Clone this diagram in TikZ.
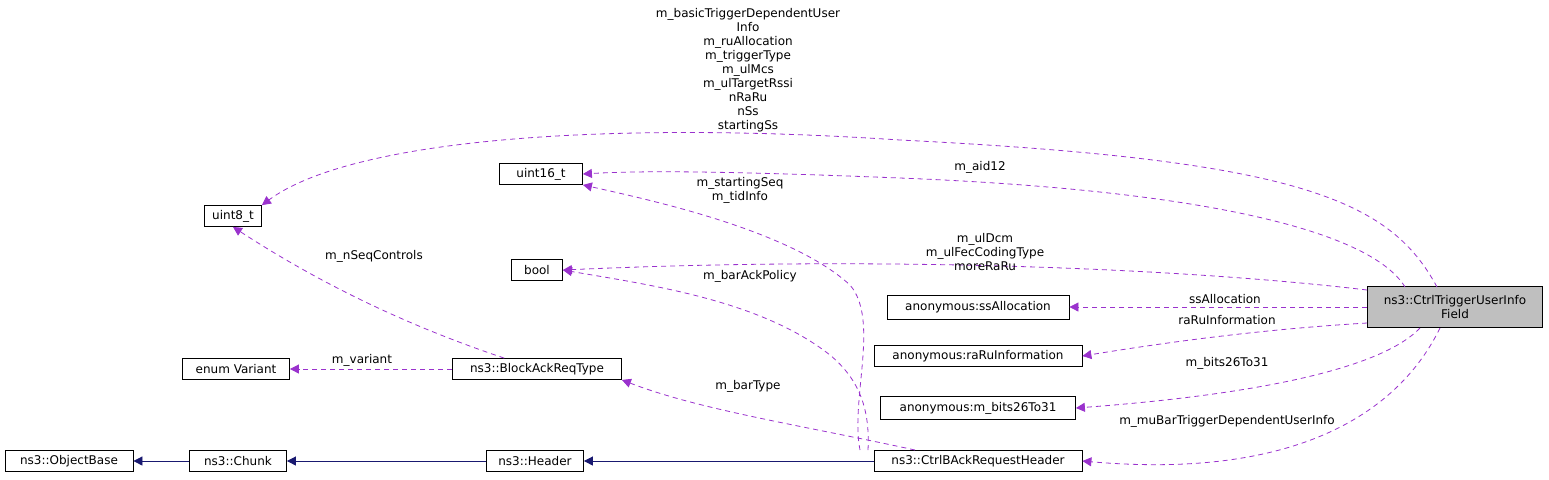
\documentclass[tikz,border=0pt]{standalone}
\usepackage{fontspec}
\setmainfont{DejaVu Sans}
\usetikzlibrary{arrows.meta}
\tikzset{
  cls/.style={draw=black, fill=white, inner sep=0pt, minimum height=10.5pt, font=\fontsize{6}{7}\selectfont},
  uses/.style={draw={rgb,255:red,154;green,50;blue,205}, dashed, dash pattern=on 2.5pt off 2pt,
    -{Triangle[length=4.5pt,width=4.5pt,fill={rgb,255:red,154;green,50;blue,205}]}},
  isa/.style={draw={rgb,255:red,25;green,25;blue,112},
    -{Triangle[length=4.5pt,width=4.5pt,fill={rgb,255:red,25;green,25;blue,112}]}},
  lbl/.style={font=\fontsize{6}{7}\selectfont, align=center, inner sep=0pt}
}
\begin{document}
\begin{tikzpicture}[x=0.5pt,y=-0.5pt]
  \useasboundingbox (0,0) rectangle (1549,479);
  % classes
  \node[cls, minimum width=28.5pt] (u8) at (233,216) {uint8\_t};
  \node[cls, minimum width=41.5pt] (u16) at (541,174) {uint16\_t};
  \node[cls, minimum width=25.5pt] (bool) at (537,270) {bool};
  \node[cls, minimum width=53.5pt] (var) at (236,369) {enum Variant};
  \node[cls, minimum width=64pt] (obj) at (69,461) {ns3::ObjectBase};
  \node[cls, minimum width=48.5pt] (chunk) at (238,461) {ns3::Chunk};
  \node[cls, minimum width=48.5pt] (hdr) at (535,461) {ns3::Header};
  \node[cls, minimum width=84.5pt] (bar) at (537,369) {ns3::BlockAckReqType};
  \node[cls, minimum width=104pt] (back) at (978,461) {ns3::CtrlBAckRequestHeader};
  \node[cls, minimum width=91pt, minimum height=12pt] (ss) at (978,307) {anonymous:ssAllocation};
  \node[cls, minimum width=104pt] (raru) at (978,356) {anonymous:raRuInformation};
  \node[cls, minimum width=97.5pt, minimum height=11.5pt] (bits) at (978,408) {anonymous:m\_bits26To31};
  \node[cls, fill={rgb,255:red,191;green,191;blue,191}, minimum width=87.5pt, minimum height=20.5pt, align=center]
    (fld) at (1455,307) {ns3::CtrlTriggerUserInfo\\Field};
  % endpoints on the field box
  \coordinate (f1) at (1437,287);
  \coordinate (f2) at (1405,287);
  \coordinate (f3) at (1420,328);
  \coordinate (f4) at (1440,328);
  \coordinate (b1) at (860,450);
  \coordinate (b2) at (868,450);
  \coordinate (b3) at (915,450);
  % inheritance
  \draw[isa] (chunk) -- (obj);
  \draw[isa] (hdr) -- (chunk);
  \draw[isa] (back) -- (hdr);
  % usage
  \draw[uses] (f1) .. controls (1390,200) and (1300,160) .. (900,140)
    .. controls (600,120) and (350,140) .. (u8.north east);
  \node[lbl] (l1) at (748,70) {m\_basicTriggerDependentUser\\Info\\m\_ruAllocation\\m\_triggerType\\m\_ulMcs\\m\_ulTargetRssi\\nRaRu\\nSs\\startingSs};
  \draw[uses] (f2) .. controls (1370,230) and (1200,190) .. (900,178)
    .. controls (750,172) and (650,170) .. (u16.east);
  \node[lbl] (l2) at (980,167) {m\_aid12};
  \draw[uses] (b1) .. controls (850,400) and (880,320) .. (850,285)
    .. controls (790,230) and (650,200) .. (u16.south east);
  \node[lbl] (l3) at (740,190) {m\_startingSeq\\m\_tidInfo};
  \draw[uses] (fld.west |- 0,290) .. controls (1200,270) and (900,255) .. (bool.east);
  \node[lbl] (l4) at (985,252) {m\_ulDcm\\m\_ulFecCodingType\\moreRaRu};
  \draw[uses] (b2) .. controls (870,410) and (860,380) .. (830,355)
    .. controls (760,300) and (650,285) .. (bool.east);
  \node[lbl] (l5) at (750,276) {m\_barAckPolicy};
  \draw[uses] (bar) .. controls (420,330) and (330,290) .. (u8.south);
  \node[lbl] (l6) at (374,256) {m\_nSeqControls};
  \draw[uses] (bar) -- (var);
  \node[lbl] (l7) at (362,360) {m\_variant};
  \draw[uses] (b3) .. controls (800,425) and (700,410) .. (bar.south east);
  \node[lbl] (l8) at (748,386) {m\_barType};
  \draw[uses] (fld.west |- 0,307) -- (ss);
  \node[lbl] (l9) at (1225,299) {ssAllocation};
  \draw[uses] (fld.west |- 0,323) .. controls (1250,330) and (1150,345) .. (raru.east);
  \node[lbl] (l10) at (1227,320) {raRuInformation};
  \draw[uses] (f3) .. controls (1380,370) and (1250,395) .. (bits.east);
  \node[lbl] (l11) at (1227,363) {m\_bits26To31};
  \draw[uses] (f4) .. controls (1400,410) and (1300,480) .. (back.east);
  \node[lbl] (l12) at (1227,421) {m\_muBarTriggerDependentUserInfo};
\end{tikzpicture}
\end{document}
